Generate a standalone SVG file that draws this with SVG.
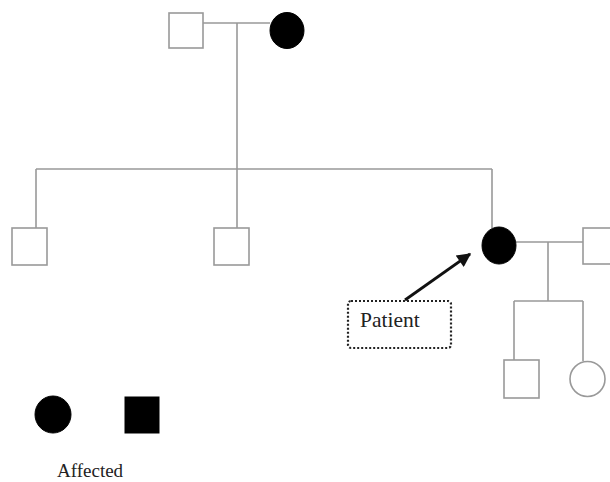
<svg xmlns="http://www.w3.org/2000/svg" width="610" height="482" viewBox="0 0 610 482">
<defs>
<style>
.ln{stroke:#999;stroke-width:1.6;fill:none}
.sq{fill:#fff;stroke:#999;stroke-width:1.6}
.aff{fill:#000;stroke:#000}
.t{font-family:"Liberation Serif",serif;fill:#222}
</style>
<marker id="ah" viewBox="0 0 10 10" refX="9" refY="5" markerWidth="6" markerHeight="5" orient="auto"><path d="M0,0 L10,5 L0,10 z" fill="#111"/></marker>
</defs>
<rect width="610" height="482" fill="#fff"/>
<g id="connectors">
<line class="ln" x1="203" y1="23" x2="270" y2="23"/>
<line class="ln" x1="237" y1="23" x2="237" y2="228"/>
<line class="ln" x1="36" y1="169" x2="492" y2="169"/>
<line class="ln" x1="36" y1="169" x2="36" y2="228"/>
<line class="ln" x1="492" y1="169" x2="492" y2="228"/>
<line class="ln" x1="516" y1="242" x2="583" y2="242"/>
<line class="ln" x1="548" y1="242" x2="548" y2="301"/>
<line class="ln" x1="514" y1="301" x2="583" y2="301"/>
<line class="ln" x1="514" y1="301" x2="514" y2="360"/>
<line class="ln" x1="583" y1="301" x2="583" y2="361"/>
<line x1="405" y1="300" x2="470" y2="254" stroke="#111" stroke-width="2.8" marker-end="url(#ah)"/>
</g>
<g id="grandfather"><rect class="sq" x="169" y="13" width="34" height="35"/></g>
<g id="grandmother"><ellipse class="aff" cx="287" cy="30.5" rx="17" ry="18"/></g>
<g id="son1"><rect class="sq" x="12" y="228" width="35" height="37"/></g>
<g id="son2"><rect class="sq" x="214" y="228" width="35" height="37"/></g>
<g id="patient"><ellipse class="aff" cx="499" cy="245.5" rx="17" ry="18.5"/></g>
<g id="husband"><rect class="sq" x="583" y="228" width="35" height="36"/></g>
<g id="child-son"><rect class="sq" x="504" y="360" width="35" height="38"/></g>
<g id="child-daughter"><circle class="sq" cx="587.5" cy="379" r="17.5"/></g>
<g id="patient-label">
<rect x="348" y="301" width="103" height="47" rx="3" fill="none" stroke="#222" stroke-width="2.2" stroke-dasharray="2,2"/>
<text class="t" x="360" y="327" font-size="21.5">Patient</text>
</g>
<g id="legend">
<ellipse class="aff" cx="53" cy="414.5" rx="18" ry="18.5"/>
<rect class="aff" x="125" y="397" width="34" height="36"/>
<text class="t" x="57" y="477" font-size="19">Affected</text>
</g>
</svg>
